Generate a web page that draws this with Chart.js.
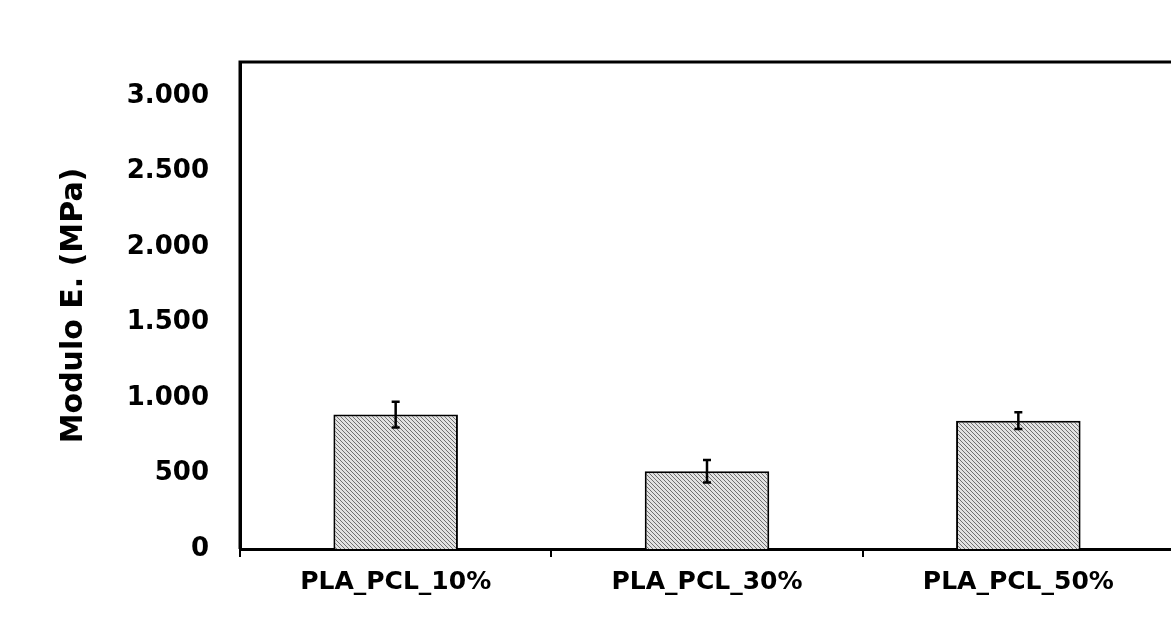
<!DOCTYPE html>
<html>
<head>
<meta charset="utf-8">
<script src="https://cdn.jsdelivr.net/npm/chart.js@4"></script>
<style>
  body { margin: 0; background: #fff; }
  #wrap { width: 1171px; height: 640px; overflow: hidden; }
</style>
</head>
<body>
<div id="wrap"><canvas id="moduloChart" width="1200" height="640"></canvas></div>
<script>
const categories = ['PLA_PCL_10%', 'PLA_PCL_30%', 'PLA_PCL_50%'];
const moduloValues = [890, 515, 850];
const moduloErrors = [85, 75, 55];
const yTicks = [0, 500, 1000, 1500, 2000, 2500, 3000];

const FONT = '"DejaVu Sans", "Liberation Sans", sans-serif';

function makeHatch() {
    const tile = document.createElement('canvas');
    tile.width = 4;
    tile.height = 4;
    const c = tile.getContext('2d');
    c.fillStyle = '#e2e2e2';
    c.fillRect(0, 0, 4, 4);
    c.strokeStyle = '#707070';
    c.lineWidth = 1;
    c.beginPath();
    c.moveTo(-1, -1); c.lineTo(5, 5);
    c.moveTo(-1, 3); c.lineTo(1, 5);
    c.moveTo(3, -1); c.lineTo(5, 1);
    c.stroke();
    return document.getElementById('moduloChart').getContext('2d').createPattern(tile, 'repeat');
}

const errorBars = {
    id: 'errorBars',
    afterDatasetsDraw(chart) {
        const ctx = chart.ctx;
        const meta = chart.getDatasetMeta(0);
        const y = chart.scales.y;
        ctx.save();
        ctx.strokeStyle = '#000';
        ctx.lineWidth = 2.5;
        meta.data.forEach((bar, i) => {
            const top = y.getPixelForValue(moduloValues[i] + moduloErrors[i]);
            const bottom = y.getPixelForValue(moduloValues[i] - moduloErrors[i]);
            ctx.beginPath();
            ctx.moveTo(bar.x, top); ctx.lineTo(bar.x, bottom);
            ctx.moveTo(bar.x - 4, top); ctx.lineTo(bar.x + 4, top);
            ctx.moveTo(bar.x - 4, bottom); ctx.lineTo(bar.x + 4, bottom);
            ctx.stroke();
        });
        ctx.restore();
    }
};

const plotBorder = {
    id: 'plotBorder',
    afterDraw(chart) {
        const a = chart.chartArea;
        const ctx = chart.ctx;
        ctx.save();
        ctx.strokeStyle = '#000';
        ctx.lineWidth = 3;
        ctx.beginPath();
        ctx.moveTo(a.left, a.bottom);
        ctx.lineTo(a.left, a.top);
        ctx.lineTo(a.right, a.top);
        ctx.lineTo(a.right, a.bottom);
        ctx.stroke();
        ctx.restore();
    }
};

new Chart(document.getElementById('moduloChart'), {
    type: 'bar',
    data: {
        labels: categories,
        datasets: [{
            data: moduloValues,
            backgroundColor: makeHatch(),
            borderColor: '#000',
            borderWidth: 2,
            categoryPercentage: 1,
            barPercentage: 0.4
        }]
    },
    options: {
        responsive: false,
        animation: false,
        layout: { padding: { left: 0, right: 26, top: 62, bottom: 0 } },
        plugins: {
            legend: { display: false },
            tooltip: { enabled: false }
        },
        scales: {
            x: {
                grid: {
                    display: true,
                    drawOnChartArea: false,
                    drawTicks: true,
                    tickLength: 8,
                    color: '#000',
                    lineWidth: 2
                },
                border: { color: '#000', width: 3 },
                ticks: {
                    color: '#000',
                    padding: 10,
                    font: { family: FONT, size: 25, weight: 'bold' }
                },
                afterFit(scale) { scale.height = 91; }
            },
            y: {
                min: 0,
                max: 3225,
                grid: { display: false, drawTicks: false },
                border: { color: '#000', width: 3 },
                afterBuildTicks(scale) {
                    scale.ticks = yTicks.map(v => ({ value: v }));
                },
                ticks: {
                    color: '#000',
                    padding: 31,
                    font: { family: FONT, size: 26, weight: 'bold' },
                    callback: v => String(v).replace(/\B(?=(\d{3})+(?!\d))/g, '.')
                },
                title: {
                    display: true,
                    text: 'Modulo E. (MPa)',
                    color: '#000',
                    padding: { top: 56, bottom: 0 },
                    font: { family: FONT, size: 30, weight: 'bold' }
                },
                afterFit(scale) { scale.width = 240; }
            }
        }
    },
    plugins: [errorBars, plotBorder]
});
</script>
</body>
</html>
